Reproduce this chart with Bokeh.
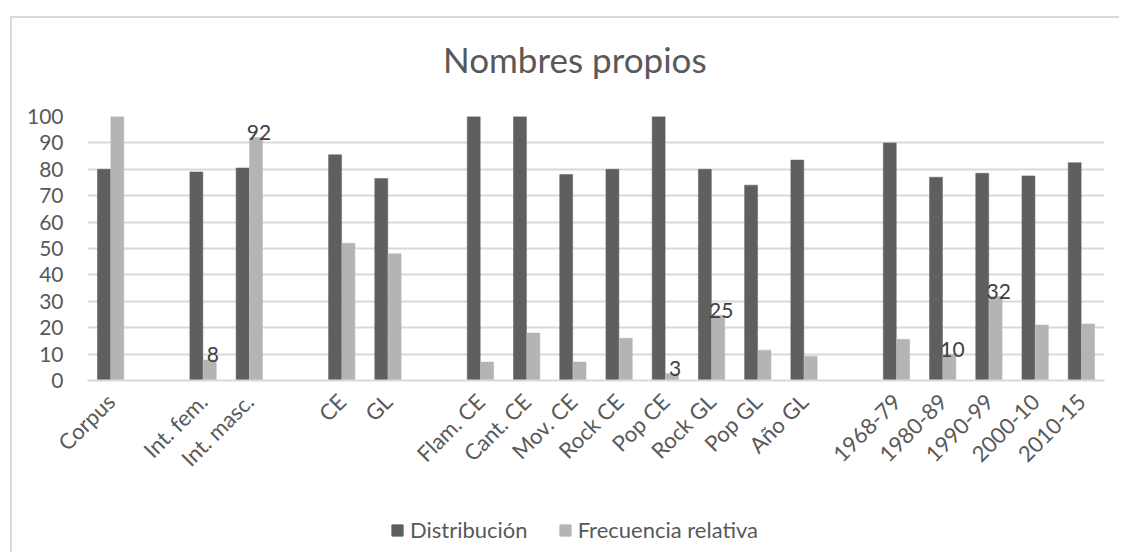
import math
from bokeh.plotting import figure
from bokeh.layouts import column
from bokeh.models import (FactorRange, ColumnDataSource, Legend, LegendItem,
                          FixedTicker, Div)
from bokeh.transform import dodge
from bokeh.embed import file_html
from bokeh.resources import INLINE
from bokeh.core.properties import value

# ---- data -------------------------------------------------------------
group_corpus = ["Corpus"]
group_interp = ["Int. fem.", "Int. masc."]
group_lang = ["CE", "GL"]
group_style = ["Flam. CE", "Cant. CE", "Mov. CE", "Rock CE", "Pop CE",
               "Rock GL", "Pop GL", "Año GL"]
group_period = ["1968-79", "1980-89", "1990-99", "2000-10", "2010-15"]

categories = group_corpus + group_interp + group_lang + group_style + group_period

distribucion = [80, 79, 80.5, 85.5, 76.5,
                100, 100, 78, 80, 100, 80, 74, 83.5,
                90, 77, 78.5, 77.5, 82.5]
frecuencia = [100, 7.8, 92, 52, 48,
              7, 18, 7, 16, 2.6, 24.6, 11.5, 9.2,
              15.6, 9.9, 31.8, 21, 21.4]

labelled = ["Int. fem.", "Int. masc.", "Pop CE", "Rock GL", "1980-89", "1990-99"]

series_names = ["Distribución", "Frecuencia relativa"]
title_text = "Nombres propios"
y_ticks = [0, 10, 20, 30, 40, 50, 60, 70, 80, 90, 100]

# ---- factors with blank spacer slots between groups ---------------------
groups = [group_corpus, group_interp, group_lang, group_style, group_period]
factors = []
for i, g in enumerate(groups):
    if i > 0:
        factors.append(" " * i)
    factors.extend(g)

DARK = "#5f5f5f"
LIGHT = "#b4b4b4"
TEXT = "#595959"
GRID = "#d9d9d9"
FONT = "Lato"

src = ColumnDataSource(dict(cat=categories, dist=distribucion, freq=frecuencia))
lab_idx = [categories.index(c) for c in labelled]
lab_src = ColumnDataSource(dict(
    cat=labelled,
    freq=[frecuencia[i] for i in lab_idx],
    txt=[str(int(round(frecuencia[i]))) for i in lab_idx],
))

W = 1109
HT_TOP, HT = 24, 40          # title strip
H1, H2 = 434, 38             # chart, legend strip

# ---- title ------------------------------------------------------------
title = Div(text=(f'<div style="font: 35px/1 {FONT}; color: {TEXT}; '
                  f'white-space: nowrap;">{title_text}</div>'),
            width=420, height=HT, margin=(HT_TOP, 0, 0, 431))

# ---- chart ------------------------------------------------------------
p = figure(x_range=FactorRange(factors=factors, range_padding=0, factor_padding=0),
           y_range=(0, 100), width=W, height=H1,
           output_backend="svg", toolbar_location=None,
           min_border_left=75, min_border_right=17,
           min_border_top=34, min_border_bottom=H1 - 34 - 264)

r1 = p.vbar(x=dodge("cat", -0.145, range=p.x_range), top="dist", width=0.28,
            source=src, fill_color=DARK, line_color=DARK, line_width=0.5)
r2 = p.vbar(x=dodge("cat", 0.145, range=p.x_range), top="freq", width=0.28,
            source=src, fill_color=LIGHT, line_color=LIGHT, line_width=0.5)

p.text(x=dodge("cat", 0.145, range=p.x_range), y="freq", text="txt", source=lab_src,
       text_align="center", text_baseline="alphabetic", x_offset=3, y_offset=-5,
       text_font=value(FONT), text_font_size="21px", text_color="#404040")

p.outline_line_color = None
p.background_fill_color = "white"
p.border_fill_color = "white"
p.xgrid.grid_line_color = None
p.ygrid.grid_line_color = GRID
p.ygrid.grid_line_width = 2
p.yaxis.ticker = FixedTicker(ticks=y_ticks)
p.yaxis.axis_line_color = None
p.yaxis.major_tick_line_color = None
p.yaxis.major_tick_out = 0
p.yaxis.minor_tick_line_color = None
p.yaxis.major_label_standoff = 24
p.yaxis.major_label_text_font = FONT
p.yaxis.major_label_text_font_size = "21px"
p.yaxis.major_label_text_color = TEXT

p.xaxis.axis_line_color = GRID
p.xaxis.axis_line_width = 2
p.xaxis.major_tick_line_color = None
p.xaxis.major_tick_out = 0
p.xaxis.minor_tick_line_color = None
p.xaxis.major_label_orientation = math.pi / 4
p.xaxis.major_label_standoff = 17
p.xaxis.major_label_text_font = FONT
p.xaxis.major_label_text_font_size = "22px"
p.xaxis.major_label_text_color = TEXT

# ---- legend strip (its own canvas so that nothing clips it) -------------
pl = figure(width=W, height=H2, x_range=(0, 1), y_range=(0, 1),
            x_axis_type=None, y_axis_type=None,
            output_backend="svg", toolbar_location=None, min_border=0)
pl.grid.visible = False
pl.outline_line_color = None
pl.border_fill_color = "white"
g1 = pl.vbar(x=0, top=0, width=0.1, source=src, fill_color=DARK, line_color=DARK,
             visible=False)
g2 = pl.vbar(x=0, top=0, width=0.1, source=src, fill_color=LIGHT, line_color=LIGHT,
             visible=False)
legend = Legend(items=[LegendItem(label=series_names[0], renderers=[g1]),
                       LegendItem(label=series_names[1], renderers=[g2])],
                orientation="horizontal", location=(303, 11),
                glyph_width=14, glyph_height=14, label_standoff=6,
                label_text_font=FONT, label_text_font_size="22px",
                label_text_color=TEXT, border_line_color=None,
                background_fill_alpha=0, padding=0, margin=0, spacing=30)
pl.add_layout(legend, "center")

layout = column(title, p, pl, spacing=0)
layout.margin = (18, 0, 0, 12)
# chart-area border: only its top and left edges fall inside the window
layout.styles = {"box-shadow": f"-2px -2px 0 0 {GRID}"}

open("out.html", "w").write(file_html(layout, INLINE))
